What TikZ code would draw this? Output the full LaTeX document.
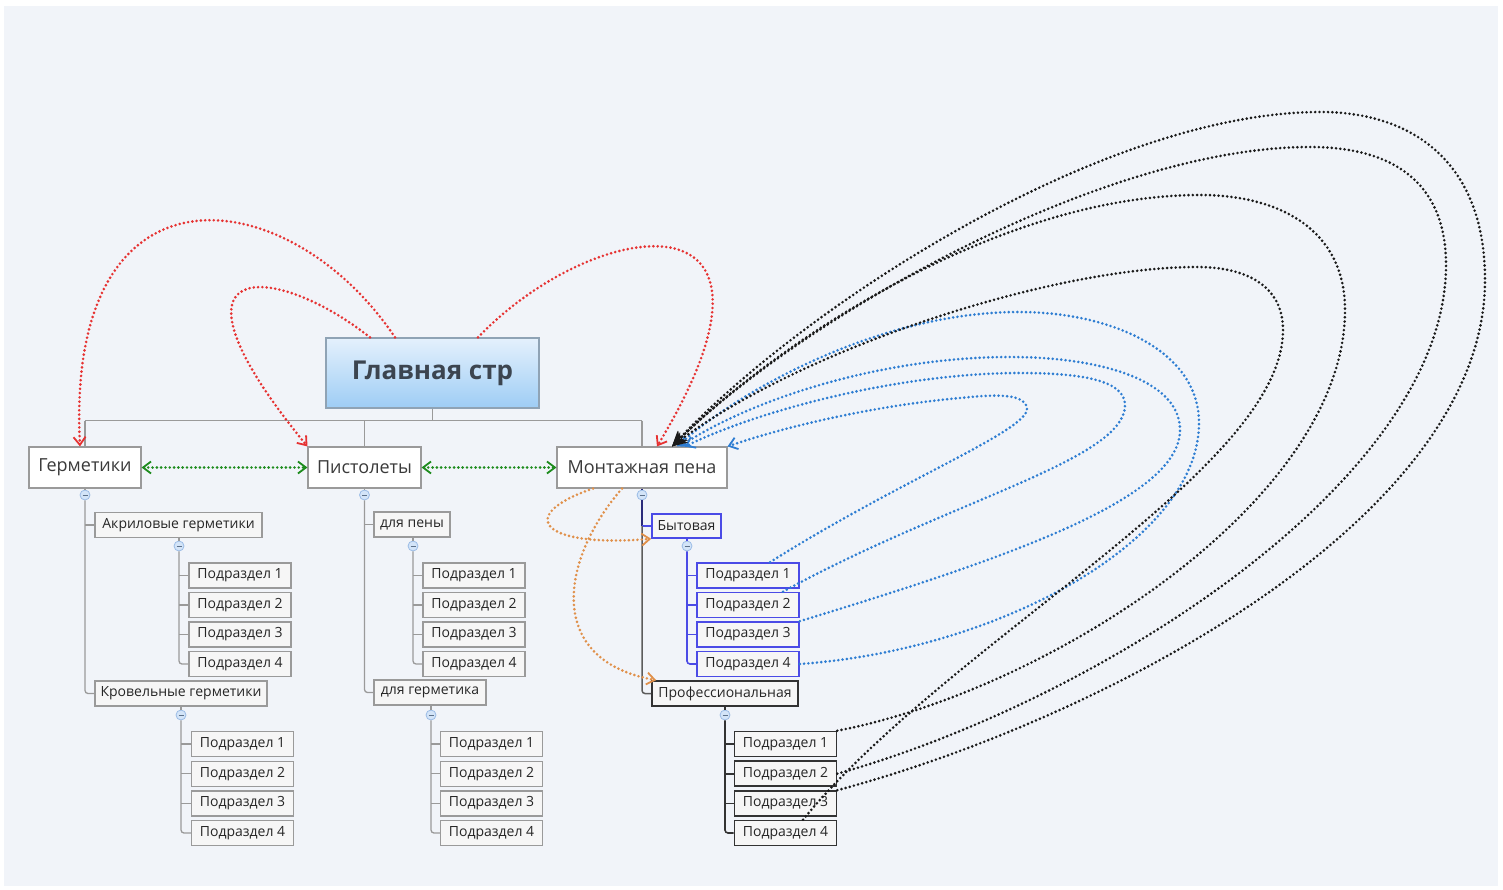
\documentclass[tikz,border=0pt]{standalone}
\usepackage{fontspec}
\setmainfont{Open Sans}
\usetikzlibrary{arrows.meta,calc}
\definecolor{bgc}{HTML}{F1F4F9}
\definecolor{relred}{HTML}{E63232}
\definecolor{relgreen}{HTML}{1E8C1E}
\definecolor{relblue}{HTML}{2E7DD2}
\definecolor{relorange}{HTML}{E0904A}
\definecolor{relblack}{HTML}{1A1A1A}
\definecolor{treegray}{HTML}{9A9A9A}
\definecolor{navyline}{HTML}{2B2B7A}
\definecolor{bluebox}{HTML}{4B4BE6}
\definecolor{darkbox}{HTML}{333333}
\definecolor{boxfill}{HTML}{F6F6F6}
\definecolor{boxgray}{HTML}{9A9A9A}
\definecolor{txtone}{HTML}{3A3A3A}
\definecolor{txttwo}{HTML}{262626}
\definecolor{roottop}{HTML}{E4F0FC}
\definecolor{rootbot}{HTML}{9ECDF5}
\definecolor{rootborder}{HTML}{8FA3B5}
\definecolor{roottxt}{HTML}{3C4550}
\definecolor{colfill}{HTML}{D3E4F8}
\definecolor{coldraw}{HTML}{9BBCE6}
\tikzset{
  rootbox/.style={draw=rootborder, line width=1.2pt, top color=roottop, bottom color=rootbot,
    inner sep=0pt, minimum width=213pt, minimum height=70pt,
    font=\fontsize{26}{30}\selectfont\bfseries, text=roottxt},
  lone/.style={draw=boxgray, fill=white, line width=1.1pt, inner sep=0pt, minimum height=41pt,
    font=\fontsize{18}{21}\selectfont, text=txtone},
  ltwo/.style={draw=boxgray, fill=boxfill, line width=1.2pt, inner sep=0pt, minimum height=25pt,
    font=\fontsize{14}{16}\selectfont, text=txttwo},
  lthree/.style={ltwo, minimum width=102pt},
  bluestyle/.style={draw=bluebox, line width=1.6pt},
  darkstyle/.style={draw=darkbox, line width=1.6pt},
  tree/.style={draw=treegray, line width=1.3pt},
  collapse/.style={circle, draw=coldraw, fill=colfill, line width=0.8pt, minimum size=10pt, inner sep=0pt,
    path picture={\draw[coldraw!60!black, line width=0.7pt]
      ([xshift=-2.5pt]path picture bounding box.center) -- ([xshift=2.5pt]path picture bounding box.center);}},
  rel/.style={line width=2.9pt, dash pattern=on 0pt off 4.3pt, line cap=round},
  chev/.tip={Straight Barb[length=8pt,width=12pt,line width=1.8pt]},
  blk/.tip={Stealth[length=15pt,width=13pt]}
}
\begin{document}
\begin{tikzpicture}[x=1pt,y=-1pt]
\useasboundingbox (0,0) rectangle (1503,890);
\fill[white] (0,0) rectangle (1503,890);
\fill[bgc] (4,6) rectangle (1498,886);

% ---------- nodes ----------
\node[rootbox] (root) at (432.5,373) {Главная стр};
\node[lone, minimum width=112pt] (germ) at (85,467.5) {Герметики};
\node[lone, minimum width=113pt] (pist) at (364.5,467.5) {Пистолеты};
\node[lone, minimum width=170pt] (pena) at (642,467.5) {Монтажная пена};

\node[ltwo, minimum width=167pt] (akr) at (178.5,525) {Акриловые герметики};
\node[ltwo, minimum width=172pt] (krov) at (181,693.5) {Кровельные герметики};
\node[ltwo, minimum width=76pt] (dpeny) at (412,524.5) {для пены};
\node[ltwo, minimum width=112pt] (dgerm) at (430,692.5) {для герметика};
\node[ltwo, bluestyle, minimum width=69pt, minimum height=24pt] (byt) at (686.5,526) {Бытовая};
\node[ltwo, darkstyle, minimum width=146pt] (prof) at (725,693.5) {Профессиональная};

\foreach \i/\yy in {1/575.5,2/605,3/634.5,4/664}{
  \node[lthree] (akr\i) at (240,\yy) {Подраздел \i};
  \node[lthree] (dpeny\i) at (474,\yy) {Подраздел \i};
  \node[lthree, bluestyle] (byt\i) at (748,\yy) {Подраздел \i};
}
\foreach \i/\yy in {1/744,2/773.7,3/803.5,4/833}{
  \node[lthree] (krov\i) at (242.5,\yy) {Подраздел \i};
  \node[lthree] (dgerm\i) at (491.5,\yy) {Подраздел \i};
  \node[lthree, darkstyle] (prof\i) at (785.5,\yy) {Подраздел \i};
}

% ---------- collapse buttons ----------
\node[collapse] (gc) at (85,495) {};
\node[collapse] (pc) at (364.5,495) {};
\node[collapse] (mc) at (642,495) {};
\node[collapse] (akrc) at (179,546) {};
\node[collapse] (krovc) at (181,715) {};
\node[collapse] (dpenyc) at (413,546) {};
\node[collapse] (dgermc) at (431,715) {};
\node[collapse] (bytc) at (687,546) {};
\node[collapse] (profc) at (725,715) {};

% ---------- tree lines ----------
\draw[tree] (root.south) -- ++(0,12) coordinate (rj);
\draw[tree] (germ.north |- rj) -- (pena.north |- rj);
\draw[tree] (germ.north |- rj) -- (germ.north);
\draw[tree] (pist.north |- rj) -- (pist.north);
\draw[tree] (pena.north |- rj) -- (pena.north);

\draw[tree] (germ.south) -- (gc.north);
\draw[tree] (pist.south) -- (pc.north);
\draw[navyline, line width=1.3pt] (pena.south) -- (mc.north);

\draw[tree, rounded corners=3pt] (gc.south) |- (krov.west);
\draw[tree] (gc |- akr.west) -- (akr.west);
\draw[tree, rounded corners=3pt] (pc.south) |- (dgerm.west);
\draw[tree] (pc |- dpeny.west) -- (dpeny.west);
\draw[navyline, line width=1.5pt] (mc.south) -- (mc |- byt.west);
\draw[bluebox, line width=1.5pt] (mc |- byt.west) -- (byt.west);
\draw[darkbox!80!white, line width=1.5pt, rounded corners=3pt] (mc |- byt.west) |- (prof.west);

\draw[tree] (akr.south -| akrc) -- (akrc.north);
\draw[tree] (krov.south -| krovc) -- (krovc.north);
\draw[tree] (dpeny.south -| dpenyc) -- (dpenyc.north);
\draw[tree] (dgerm.south -| dgermc) -- (dgermc.north);
\draw[bluebox, line width=1.5pt] (byt.south -| bytc) -- (bytc.north);
\draw[darkbox, line width=1.5pt] (prof.south -| profc) -- (profc.north);

\draw[tree, rounded corners=3pt] (akrc.south) |- (akr4.west);
\draw[tree, rounded corners=3pt] (krovc.south) |- (krov4.west);
\draw[tree, rounded corners=3pt] (dpenyc.south) |- (dpeny4.west);
\draw[tree, rounded corners=3pt] (dgermc.south) |- (dgerm4.west);
\draw[bluebox, line width=1.6pt, rounded corners=3pt] (bytc.south) |- (byt4.west);
\draw[darkbox, line width=1.6pt, rounded corners=3pt] (profc.south) |- (prof4.west);
\foreach \i in {1,2,3}{
  \draw[tree] (akrc |- akr\i.west) -- (akr\i.west);
  \draw[tree] (krovc |- krov\i.west) -- (krov\i.west);
  \draw[tree] (dpenyc |- dpeny\i.west) -- (dpeny\i.west);
  \draw[tree] (dgermc |- dgerm\i.west) -- (dgerm\i.west);
  \draw[bluebox, line width=1.6pt] (bytc |- byt\i.west) -- (byt\i.west);
  \draw[darkbox, line width=1.6pt] (profc |- prof\i.west) -- (prof\i.west);
}

% ---------- red relationships ----------
\draw[rel, relred, -chev] ([xshift=-37.5pt]root.north) .. controls (290,180) and (65,150) .. ([xshift=-5pt]germ.north);
\draw[rel, relred, -chev] ([xshift=-62.5pt]root.north) .. controls (275,262) and (148,252) .. (pist.north west);
\draw[rel, relred, -chev] ([xshift=45.5pt]root.north) .. controls (595,215) and (815,185) .. ([xshift=15pt]pena.north);

% ---------- green relationships ----------
\draw[rel, relgreen, chev-chev] (germ.east) -- (pist.west);
\draw[rel, relgreen, chev-chev] (pist.east) -- (pena.west);

% ---------- orange relationships ----------
\draw[rel, relorange, -chev] ([xshift=-49pt]pena.south) .. controls (515,515) and (540,548) .. (byt.south west);
\draw[rel, relorange, -chev] ([xshift=-20pt]pena.south) .. controls (560,560) and (545,660) .. ([xshift=5pt]prof.north west);

% ---------- blue relationships ----------
\draw[rel, relblue, -chev] ([xshift=22pt]byt1.north)
  .. controls (900,480) and (1030,430) .. (1027,408)
  .. controls (1024,392) and (990,395) .. (960,398)
  .. controls (880,405) and (790,425) .. (pena.north east);
\draw[rel, relblue, -chev] ([xshift=35pt]byt2.north)
  .. controls (950,500) and (1125,460) .. (1125,405)
  .. controls (1125,380) and (1080,373) .. (1020,373)
  .. controls (900,373) and (760,410) .. ([xshift=43pt]pena.north);
\draw[rel, relblue, -chev] (byt3.north east)
  .. controls (1000,560) and (1180,500) .. (1180,430)
  .. controls (1180,380) and (1100,357) .. (1010,357)
  .. controls (880,357) and (750,400) .. ([xshift=38pt]pena.north);
\draw[rel, relblue, -chev] (byt4.east)
  .. controls (1000,650) and (1199,540) .. (1199,423)
  .. controls (1199,350) and (1110,312) .. (1019,312)
  .. controls (880,312) and (740,390) .. ([xshift=35pt]pena.north);

% ---------- black relationships ----------
\draw[rel, relblack, -blk] (prof3.north east)
  .. controls (1100,720) and (1485,520) .. (1485,280)
  .. controls (1485,160) and (1410,112) .. (1321,112)
  .. controls (1100,112) and (800,310) .. ([xshift=30pt]pena.north);
\draw[rel, relblack, -blk] (prof2.east)
  .. controls (1100,700) and (1446,480) .. (1446,265)
  .. controls (1446,180) and (1390,147) .. (1310,147)
  .. controls (1100,147) and (800,320) .. ([xshift=30pt]pena.north);
\draw[rel, relblack, -blk] (prof1.north east)
  .. controls (1050,690) and (1345,500) .. (1345,310)
  .. controls (1345,230) and (1280,195) .. (1200,195)
  .. controls (1000,195) and (780,340) .. ([xshift=30pt]pena.north);
\draw[rel, relblack, -blk] ([xshift=17.5pt]prof4.north)
  .. controls (950,640) and (1283,470) .. (1283,330)
  .. controls (1283,285) and (1245,267) .. (1197,267)
  .. controls (1050,267) and (800,350) .. ([xshift=30pt]pena.north);
\end{tikzpicture}
\end{document}
